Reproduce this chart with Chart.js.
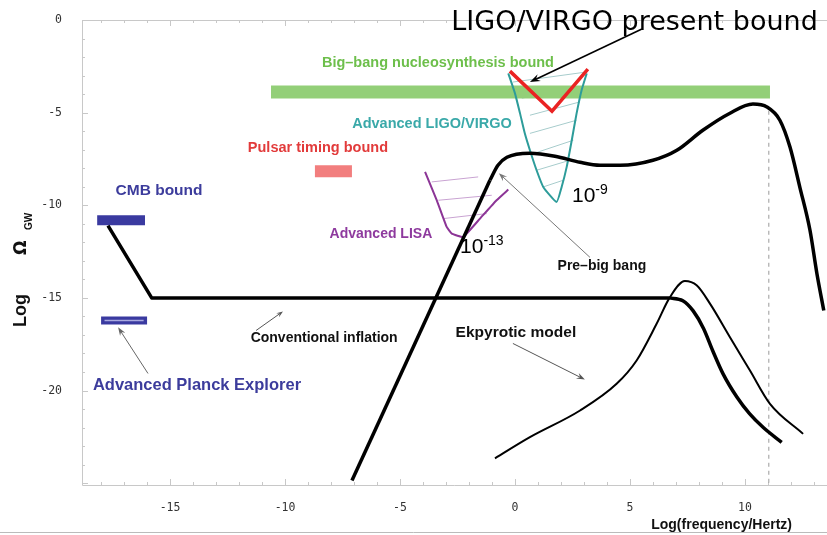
<!DOCTYPE html>
<html>
<head>
<meta charset="utf-8">
<script src="https://cdn.jsdelivr.net/npm/chart.js@4.4.1/dist/chart.umd.min.js"></script>
<style>
    html, body { margin: 0; padding: 0; background: #ffffff; }
    #wrap { width: 827px; height: 535px; position: relative; }
</style>
</head>
<body>
<div id="wrap"><canvas id="gwChart"></canvas></div>
<script>
// gw-spectrum - Log Omega_GW vs Log(frequency/Hertz)

// axis ticks
const xTicks = [-15, -10, -5, 0, 5, 10];
const yTicks = [0, -5, -10, -15, -20];

// conventional inflation: straight part, then roll-off
const inflationX = [-17.7, -15.8, 6.7];
const inflationY = [-11.1, -15.0, -15.0];
const inflationTailX = [6.7, 7.3, 7.75, 8.2, 8.6, 9.05, 9.65, 10.2, 10.8, 11.6];
const inflationTailY = [-15.0, -15.15, -15.7, -16.65, -17.85, -19.1, -20.35, -21.25, -22.0, -22.8];

// pre-big bang: straight rise, then plateau and peak
const preBigBangX = [-7.09, -1.09];
const preBigBangY = [-24.86, -8.65];
const preBigBangPeakX = [-1.09, -0.74, -0.35, 0.65, 1.74, 2.83, 3.7, 4.57, 6.0, 7.04, 8.17, 9.35, 10.35, 10.96, 11.52, 11.96, 12.39, 12.83, 13.13, 13.43];
const preBigBangPeakY = [-8.65, -7.84, -7.41, -7.19, -7.35, -7.68, -7.84, -7.84, -7.57, -7.03, -5.95, -5.03, -4.54, -4.7, -5.41, -6.86, -9.03, -11.35, -13.68, -15.68];

// ekpyrotic model
const ekpyroticX = [-0.87, 0.65, 2.83, 4.42, 5.29, 6.16, 6.74, 7.39, 7.9, 8.48, 9.35, 10.22, 11.09, 12.53];
const ekpyroticY = [-23.66, -22.52, -21.08, -19.64, -18.38, -16.4, -14.96, -14.09, -14.32, -15.31, -17.12, -18.92, -20.72, -22.34];

// sensitivity curves
const ligoX = [-0.29, 0, 0.22, 0.43, 0.65, 0.94, 1.23, 1.81, 2.03, 2.25, 2.47, 2.68, 2.9, 3.12];
const ligoY = [-2.88, -3.96, -5.04, -6.13, -7.03, -8.11, -9.01, -9.82, -9.01, -7.93, -6.49, -5.04, -3.78, -2.88];
const lisaX = [-3.91, -3.4, -2.97, -2.75, -2.25, -1.52, -0.8, -0.29];
const lisaY = [-8.2, -9.73, -11.17, -11.53, -11.71, -10.72, -9.73, -9.15];
const ligoBoundX = [-0.22, 1.61, 3.17];
const ligoBoundY = [-2.76, -4.92, -2.65];

// hatching inside the sensitivity regions [x1, y1, x2, y2]
const ligoHatch = [
    [-0.09, -3.35, 3.09, -2.81],
    [0.30, -4.22, 2.96, -3.57],
    [0.65, -5.14, 2.83, -4.42],
    [0.65, -6.12, 2.68, -5.41],
    [0.80, -7.21, 2.54, -6.49],
    [0.94, -8.11, 2.39, -7.57],
    [1.23, -9.01, 2.10, -8.65]
];
const lisaHatch = [
    [-3.62, -8.74, -1.60, -8.47],
    [-3.33, -9.73, -1.01, -9.46],
    [-3.12, -10.72, -1.23, -10.45]
];

// bounds (x range, level)
const bbnX = [-10.61, 11.09];
const bbnY = -3.89;
const cmbX = [-18.17, -16.09];
const cmbY = -10.81;
const planckX = [-18.0, -16.0];
const planckY = -16.22;
const pulsarX = [-8.7, -7.09];
const pulsarY = -8.16;

// dashed cut-off
const cutoffX = 11.04;
const cutoffY = [-4.9, -25.1];

const boldFont = size => 'bold ' + size + 'px "Liberation Sans", Arial, sans-serif';

const labels = [
    { text: 'LIGO/VIRGO present bound', x: 5.2, y: -0.16, color: '#000000', font: '27px "DejaVu Sans", sans-serif', maxWidth: 375 },
    { text: 'Big\u2013bang nucleosynthesis bound', x: -3.35, y: -2.32, color: '#6dbf4b', font: boldFont(14.5) },
    { text: 'Advanced LIGO/VIRGO', x: -3.61, y: -5.62, color: '#3aa9a9', font: boldFont(14.5) },
    { text: 'Pulsar timing bound', x: -8.57, y: -6.92, color: '#e23b3b', font: boldFont(14.5) },
    { text: 'CMB bound', x: -15.48, y: -9.24, color: '#3c3c9c', font: boldFont(15.5) },
    { text: 'Advanced Planck Explorer', x: -13.83, y: -19.73, color: '#3c3c9c', font: boldFont(16.5) },
    { text: 'Advanced LISA', x: -5.83, y: -11.57, color: '#8e3a9e', font: boldFont(14) },
    { text: 'Pre\u2013big bang', x: 3.78, y: -13.3, color: '#111111', font: boldFont(14) },
    { text: 'Conventional inflation', x: -8.3, y: -17.19, color: '#111111', font: boldFont(14) },
    { text: 'Ekpyrotic model', x: 0.04, y: -16.86, color: '#111111', font: boldFont(15.5) }
];

// "10^n" marks, x/y = left end of baseline
const powers = [
    { base: '10', exp: '-13', x: -2.39, y: -12.59 },
    { base: '10', exp: '-9', x: 2.48, y: -9.84 }
];

const arrows = [
    { x1: 5.52, y1: -0.49, x2: 0.65, y2: -3.35, color: '#000000', width: 1.6, head: 11 },
    { x1: 3.26, y1: -12.81, x2: -0.7, y2: -8.27, color: '#777777', width: 1, head: 9 },
    { x1: -11.26, y1: -16.76, x2: -10.09, y2: -15.73, color: '#555555', width: 1, head: 7 },
    { x1: -0.09, y1: -17.46, x2: 3.04, y2: -19.41, color: '#555555', width: 1, head: 9 },
    { x1: -15.96, y1: -19.08, x2: -17.26, y2: -16.59, color: '#666666', width: 1, head: 9 }
];

function pts(xs, ys) {
    return xs.map((x, i) => ({ x: x, y: ys[i] }));
}

function lineSet(data, color, width, order, extra) {
    return Object.assign({
        data: data,
        borderColor: color,
        borderWidth: width,
        pointRadius: 0,
        fill: false,
        tension: 0,
        order: order
    }, extra || {});
}

function drawArrow(ctx, x1, y1, x2, y2, color, width, head) {
    const ang = Math.atan2(y2 - y1, x2 - x1);
    ctx.strokeStyle = color;
    ctx.fillStyle = color;
    ctx.lineWidth = width;
    ctx.beginPath();
    ctx.moveTo(x1, y1);
    ctx.lineTo(x2 - Math.cos(ang) * head * 0.6, y2 - Math.sin(ang) * head * 0.6);
    ctx.stroke();
    ctx.beginPath();
    ctx.moveTo(x2, y2);
    ctx.lineTo(x2 - head * Math.cos(ang - 0.35), y2 - head * Math.sin(ang - 0.35));
    ctx.lineTo(x2 - head * 0.6 * Math.cos(ang), y2 - head * 0.6 * Math.sin(ang));
    ctx.lineTo(x2 - head * Math.cos(ang + 0.35), y2 - head * Math.sin(ang + 0.35));
    ctx.closePath();
    ctx.fill();
}

// frame with inward ticks, bottom rule
const framePlugin = {
    id: 'frame',
    beforeDatasetsDraw(chart) {
        const { ctx, chartArea: a } = chart;
        const sx = chart.scales.x, sy = chart.scales.y;
        ctx.save();
        ctx.strokeStyle = '#c8c8c8';
        ctx.lineWidth = 1;
        ctx.beginPath();
        ctx.moveTo(a.left + 0.5, a.top + 0.5);
        ctx.lineTo(a.left + 0.5, a.bottom + 0.5);
        ctx.lineTo(a.right, a.bottom + 0.5);
        ctx.moveTo(a.left, a.top + 0.5);
        ctx.lineTo(a.right, a.top + 0.5);
        for (let v = Math.ceil(sx.min); v <= sx.max; v++) {
            const len = v % 5 === 0 ? 6 : 3;
            const px = Math.round(sx.getPixelForValue(v)) + 0.5;
            ctx.moveTo(px, a.bottom);
            ctx.lineTo(px, a.bottom - len);
            ctx.moveTo(px, a.top);
            ctx.lineTo(px, a.top + len);
        }
        for (let v = Math.ceil(sy.min); v <= sy.max; v++) {
            const len = v % 5 === 0 ? 6 : 3;
            const py = Math.round(sy.getPixelForValue(v)) + 0.5;
            ctx.moveTo(a.left, py);
            ctx.lineTo(a.left + len, py);
        }
        ctx.stroke();
        ctx.strokeStyle = '#bbbbbb';
        ctx.beginPath();
        ctx.moveTo(0, 532.5);
        ctx.lineTo(chart.width, 532.5);
        ctx.stroke();
        ctx.restore();
    }
};

// labels, arrows, axis titles
const annotationPlugin = {
    id: 'annotations',
    afterDatasetsDraw(chart) {
        const { ctx } = chart;
        const sx = chart.scales.x, sy = chart.scales.y;
        ctx.save();

        arrows.forEach(r => {
            drawArrow(ctx, sx.getPixelForValue(r.x1), sy.getPixelForValue(r.y1),
                sx.getPixelForValue(r.x2), sy.getPixelForValue(r.y2), r.color, r.width, r.head);
        });

        ctx.textAlign = 'center';
        ctx.textBaseline = 'middle';
        labels.forEach(l => {
            ctx.font = l.font;
            ctx.fillStyle = l.color;
            const px = sx.getPixelForValue(l.x), py = sy.getPixelForValue(l.y);
            if (l.maxWidth) {
                ctx.fillText(l.text, px, py, l.maxWidth);
            } else {
                ctx.fillText(l.text, px, py);
            }
        });

        ctx.textAlign = 'left';
        ctx.textBaseline = 'alphabetic';
        ctx.fillStyle = '#000000';
        powers.forEach(p => {
            const px = sx.getPixelForValue(p.x), py = sy.getPixelForValue(p.y);
            ctx.font = '21px "Liberation Sans", Arial, sans-serif';
            ctx.fillText(p.base, px, py);
            const w = ctx.measureText(p.base).width;
            ctx.font = '14px "Liberation Sans", Arial, sans-serif';
            ctx.fillText(p.exp, px + w, py - 8);
        });

        // x axis title
        ctx.font = boldFont(14);
        ctx.textAlign = 'right';
        ctx.textBaseline = 'middle';
        ctx.fillStyle = '#111111';
        ctx.fillText('Log(frequency/Hertz)', 792, 525, 156);

        // y axis title
        ctx.translate(26, 333);
        ctx.rotate(-Math.PI / 2);
        ctx.textAlign = 'left';
        ctx.textBaseline = 'alphabetic';
        ctx.font = boldFont(18);
        ctx.fillText('Log', 6, 0);
        ctx.font = 'bold 17px "DejaVu Sans", sans-serif';
        ctx.fillText('\u03a9', 78, 0);
        ctx.font = boldFont(10);
        ctx.fillText('GW', 103, 6);

        ctx.restore();
    }
};

function buildDatasets() {
    const sets = [];
    ligoHatch.forEach(h => sets.push(lineSet(pts([h[0], h[2]], [h[1], h[3]]), '#a7cccc', 1, 20)));
    lisaHatch.forEach(h => sets.push(lineSet(pts([h[0], h[2]], [h[1], h[3]]), '#c9a3d2', 1, 20)));
    sets.push(lineSet(pts(bbnX, [bbnY, bbnY]), '#93cf78', 13, 15, { borderCapStyle: 'butt' }));
    sets.push(lineSet(pts([cutoffX, cutoffX], cutoffY), '#9a9a9a', 1, 14, { borderDash: [4, 4] }));
    sets.push(lineSet(pts(pulsarX, [pulsarY, pulsarY]), '#f27e7e', 12, 13, { borderCapStyle: 'butt' }));
    sets.push(lineSet(pts(cmbX, [cmbY, cmbY]), '#3a3aa0', 10, 13, { borderCapStyle: 'butt' }));
    sets.push(lineSet(pts(planckX, [planckY, planckY]), '#3a3aa0', 8, 13, { borderCapStyle: 'butt' }));
    sets.push(lineSet(pts([planckX[0] + 0.15, planckX[1] - 0.15], [planckY, planckY]), '#a9a9e0', 1.5, 12, { borderCapStyle: 'butt' }));
    sets.push(lineSet(pts(lisaX, lisaY), '#8c3596', 2, 8, { tension: 0.1 }));
    sets.push(lineSet(pts(ligoX, ligoY), '#2d9c9a', 2, 7, { tension: 0.15 }));
    sets.push(lineSet(pts(ekpyroticX, ekpyroticY), '#000000', 2, 3, { cubicInterpolationMode: 'monotone' }));
    sets.push(lineSet(pts(inflationX, inflationY), '#000000', 3.5, 2, { borderJoinStyle: 'round' }));
    sets.push(lineSet(pts(inflationTailX, inflationTailY), '#000000', 3.5, 2, { cubicInterpolationMode: 'monotone' }));
    sets.push(lineSet(pts(preBigBangX, preBigBangY), '#000000', 3.5, 1));
    sets.push(lineSet(pts(preBigBangPeakX, preBigBangPeakY), '#000000', 3.5, 1, { cubicInterpolationMode: 'monotone' }));
    sets.push(lineSet(pts(ligoBoundX, ligoBoundY), '#ea2323', 3.5, 0));
    return sets;
}

function initGwChart() {
    const ctx = document.getElementById('gwChart');
    if (!ctx) return;

    const tickFont = { family: '"DejaVu Sans Mono", monospace', size: 11.5 };

    window.gwChart = new Chart(ctx, {
        type: 'line',
        data: { datasets: buildDatasets() },
        options: {
            responsive: true,
            maintainAspectRatio: false,
            animation: false,
            layout: { padding: { top: 20, right: 0, left: 0, bottom: 0 } },
            plugins: {
                legend: { display: false },
                tooltip: { enabled: false }
            },
            scales: {
                x: {
                    type: 'linear',
                    min: -18.83,
                    max: 13.57,
                    grid: { display: false },
                    border: { display: false },
                    afterFit: function(scale) { scale.height = 50; },
                    afterBuildTicks: function(scale) {
                        scale.ticks = xTicks.map(v => ({ value: v }));
                    },
                    ticks: {
                        color: '#333333',
                        font: tickFont,
                        padding: 8,
                        maxRotation: 0,
                        autoSkip: false
                    }
                },
                y: {
                    type: 'linear',
                    min: -25.1,
                    max: 0,
                    grid: { display: false },
                    border: { display: false },
                    afterFit: function(scale) { scale.width = 82; },
                    afterBuildTicks: function(scale) {
                        scale.ticks = yTicks.map(v => ({ value: v }));
                    },
                    ticks: {
                        color: '#333333',
                        font: tickFont,
                        padding: 12,
                        autoSkip: false
                    }
                }
            }
        },
        plugins: [framePlugin, annotationPlugin]
    });
}

document.addEventListener('DOMContentLoaded', initGwChart);
</script>
</body>
</html>
